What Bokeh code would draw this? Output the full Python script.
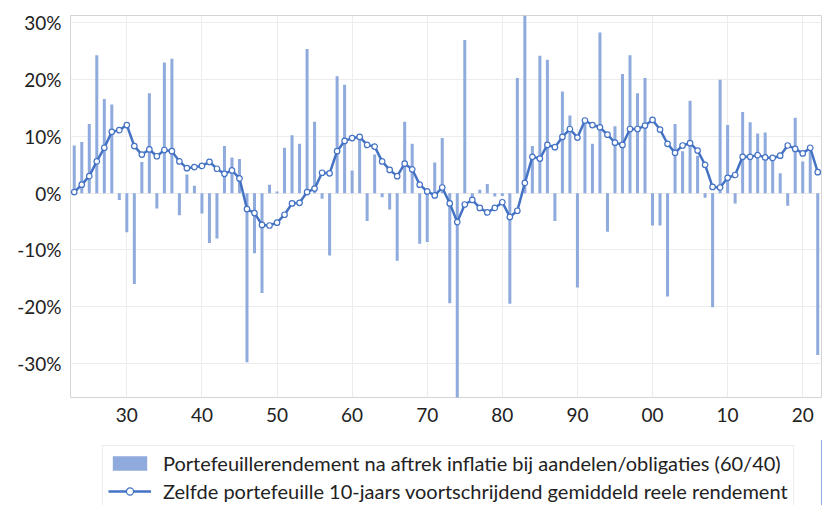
from bokeh.plotting import figure
from bokeh.layouts import column
from bokeh.models import ColumnDataSource, FixedTicker, Legend, LegendItem, Range1d
from bokeh.embed import file_html
from bokeh.resources import INLINE

years = list(range(1923, 2023))

portfolio_return = [
    8.4, 9.0, 12.2, 24.3, 16.6, 15.6, -1.2, -6.9, -16.0, 5.5,
    17.6, -2.7, 23.0, 23.7, -3.9, 3.3, 1.3, -3.6, -8.8, -8.0,
    8.3, 6.3, 6.0, -29.8, -10.6, -17.6, 1.5, 0.3, 8.0, 10.2,
    8.7, 25.4, 12.6, -1.0, -11.0, 20.6, 19.1, 4.0, 10.3, -4.9,
    6.8, -0.7, -2.9, -11.9, 12.6, 8.7, -8.9, -8.6, 5.4, 9.7,
    -19.4, -37.0, 27.0, -1.0, 0.6, 1.6, -0.6, -0.5, -19.5, 20.3,
    32.0, 8.3, 24.2, 23.5, -4.9, 17.9, 13.7, -16.6, 12.8, 8.7,
    28.3, -6.8, 11.8, 21.0, 24.3, 17.6, 20.3, -5.7, -5.7, -18.2,
    12.2, 7.4, 16.3, 6.6, -0.8, -20.1, 20.0, 12.0, -1.8, 14.3,
    12.5, 10.5, 10.7, 6.3, 3.5, -2.2, 13.3, 5.6, 8.0, -28.5,
]

rolling_10y = [
    0.2, 1.5, 3.0, 5.6, 8.0, 10.8, 11.1, 12.0, 8.3, 6.8,
    7.7, 6.5, 7.6, 7.4, 5.6, 4.4, 4.6, 4.8, 5.5, 4.3,
    3.4, 4.0, 2.6, -2.8, -3.5, -5.6, -5.7, -5.2, -3.8, -1.8,
    -1.7, 0.2, 0.8, 3.6, 3.5, 7.4, 9.2, 9.7, 9.9, 8.5,
    8.2, 5.6, 4.1, 3.0, 5.2, 4.2, 1.5, 0.3, -0.4, 1.0,
    -1.8, -5.1, -2.0, -1.2, -2.6, -3.4, -2.6, -1.6, -4.2, -3.1,
    1.8, 6.4, 6.1, 8.5, 8.1, 9.9, 11.3, 9.8, 12.8, 12.0,
    11.6, 10.3, 8.9, 8.5, 11.3, 11.3, 11.9, 12.9, 11.2, 8.7,
    7.1, 8.4, 8.8, 7.5, 5.0, 1.1, 1.0, 2.7, 3.2, 6.4,
    6.4, 6.7, 6.3, 6.2, 6.6, 8.4, 7.8, 7.0, 8.0, 3.7,
]

x_ticks = [1930, 1940, 1950, 1960, 1970, 1980, 1990, 2000, 2010, 2020]
x_tick_labels = ["30", "40", "50", "60", "70", "80", "90", "00", "10", "20"]
y_ticks = [-30, -20, -10, 0, 10, 20, 30]
y_tick_labels = ["-30%", "-20%", "-10%", "0%", "10%", "20%", "30%"]

legend_bar = "Portefeuillerendement na aftrek inflatie bij aandelen/obligaties (60/40)"
legend_line = "Zelfde portefeuille 10-jaars voortschrijdend gemiddeld reele rendement"

BAR_COLOR = "#8faadc"
LINE_COLOR = "#4472c4"
FONT = "Lato"

src = ColumnDataSource(dict(year=years, ret=portfolio_return, avg=rolling_10y))

# ---- main chart ----
p = figure(width=822, height=440, output_backend="svg", toolbar_location=None,
           x_range=Range1d(1922.5, 2022.5), y_range=Range1d(-36.0, 31.3),
           min_border_left=70, min_border_right=1, min_border_top=15,
           min_border_bottom=43)

p.vbar(x="year", top="ret", bottom=0, width=0.4, source=src,
       fill_color=BAR_COLOR, line_color=None)
p.line(x="year", y="avg", source=src, line_color=LINE_COLOR, line_width=2.5)
p.scatter(x="year", y="avg", source=src, size=5.5, marker="circle",
          fill_color="white", line_color=LINE_COLOR, line_width=1.2)

p.outline_line_color = "#d4d4d4"
p.outline_line_width = 1

p.xaxis.ticker = FixedTicker(ticks=x_ticks)
p.xaxis.major_label_overrides = {t: l for t, l in zip(x_ticks, x_tick_labels)}
p.yaxis.ticker = FixedTicker(ticks=y_ticks)
p.yaxis.major_label_overrides = {t: l for t, l in zip(y_ticks, y_tick_labels)}

for ax in (p.xaxis, p.yaxis):
    ax.axis_line_color = None
    ax.major_tick_line_color = None
    ax.minor_tick_line_color = None
    ax.major_tick_out = 0
    ax.minor_tick_out = 0
    ax.major_label_text_font = FONT
    ax.major_label_text_font_size = "19px"
    ax.major_label_text_color = "#222222"
p.xaxis.major_label_standoff = 10
p.yaxis.major_label_standoff = 9

p.xgrid.grid_line_color = "#ececec"
p.ygrid.grid_line_color = "#ececec"
p.xgrid.ticker = FixedTicker(ticks=x_ticks)
p.ygrid.ticker = FixedTicker(ticks=y_ticks)

# ---- legend strip below the chart (same data, drawn out of its view) ----
lg = figure(width=822, height=65, output_backend="svg", toolbar_location=None,
            x_range=Range1d(0, 1), y_range=Range1d(0, 1),
            min_border_left=70, min_border_right=1, min_border_top=0,
            min_border_bottom=0)
lg.axis.visible = False
lg.grid.visible = False
lg.outline_line_color = None

r_bar = lg.vbar(x="year", top="ret", bottom=0, width=0.4, source=src,
                fill_color=BAR_COLOR, line_color=None)
r_line = lg.line(x="year", y="avg", source=src, line_color=LINE_COLOR, line_width=2.5)
r_pts = lg.scatter(x="year", y="avg", source=src, size=5.5, marker="circle",
                   fill_color="white", line_color=LINE_COLOR, line_width=1.2)

legend = Legend(items=[LegendItem(label=legend_bar, renderers=[r_bar]),
                       LegendItem(label=legend_line, renderers=[r_line, r_pts])],
                location=(32, -4), orientation="vertical", margin=0,
                glyph_width=43, glyph_height=18, spacing=4, padding=5,
                label_standoff=12, label_text_font=FONT,
                label_text_font_size="20px", label_text_color="#222222",
                border_line_color="#d9d9d9", border_line_width=1,
                background_fill_color="white", background_fill_alpha=1.0)
lg.add_layout(legend, "center")

open("out.html", "w").write(file_html(column(p, lg, spacing=0), INLINE))
